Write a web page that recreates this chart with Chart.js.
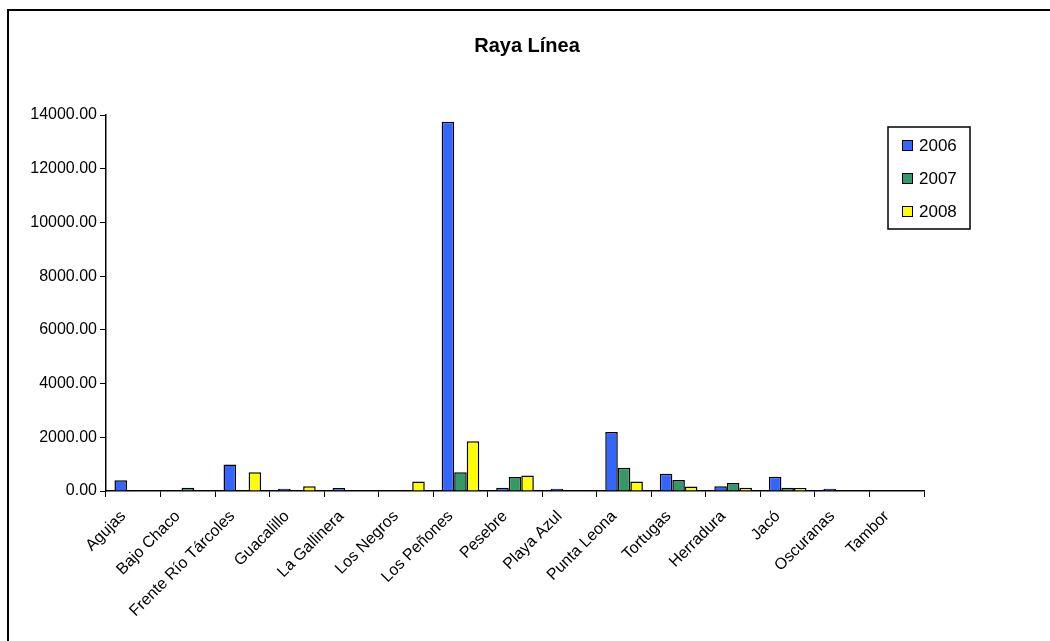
<!DOCTYPE html>
<html>
<head>
<meta charset="utf-8">
<script src="https://cdn.jsdelivr.net/npm/chart.js@4/dist/chart.umd.min.js"></script>
<style>
  html, body { margin: 0; padding: 0; background: #fff; }
  #wrap { width: 1050px; height: 641px; position: relative; }
</style>
</head>
<body>
<div id="wrap"><canvas id="chart" width="1050" height="641"></canvas></div>
<script>
const categories = ['Agujas', 'Bajo Chaco', 'Frente Río Tárcoles', 'Guacalillo', 'La Gallinera', 'Los Negros',
    'Los Peñones', 'Pesebre', 'Playa Azul', 'Punta Leona', 'Tortugas', 'Herradura', 'Jacó', 'Oscuranas', 'Tambor'];
const years = ['2006', '2007', '2008'];
const values2006 = [400, 0, 990, 80, 110, 0, 13750, 120, 80, 2200, 640, 180, 530, 80, 0];
const values2007 = [0, 120, 0, 0, 0, 0, 700, 520, 0, 870, 410, 300, 120, 0, 0];
const values2008 = [0, 0, 700, 180, 0, 350, 1850, 580, 0, 350, 170, 120, 110, 0, 0];
const yTicks = [0, 2000, 4000, 6000, 8000, 10000, 12000, 14000];
const colors = ['#3366FF', '#339966', '#FFFF00'];
const title = 'Raya Línea';

const font = 'Arial, "Liberation Sans", sans-serif';

// marco exterior, título y leyenda con recuadro
const framePlugin = {
    id: 'frame',
    afterDraw(chart) {
        const ctx = chart.ctx;
        ctx.save();
        ctx.strokeStyle = '#000';
        ctx.lineWidth = 2;
        ctx.beginPath();
        ctx.moveTo(8, 660);
        ctx.lineTo(8, 10);
        ctx.lineTo(1060, 10);
        ctx.stroke();

        ctx.fillStyle = '#000';
        ctx.font = 'bold 20px ' + font;
        ctx.textAlign = 'center';
        ctx.textBaseline = 'middle';
        ctx.fillText(title, 527, 46);

        // leyenda
        const bx = 888, by = 127, bw = 82, bh = 102;
        ctx.lineWidth = 1.5;
        ctx.strokeRect(bx, by, bw, bh);
        ctx.font = '17px ' + font;
        ctx.textAlign = 'left';
        chart.data.datasets.forEach((ds, i) => {
            const y = by + 18 + i * 33;
            ctx.fillStyle = ds.backgroundColor;
            ctx.fillRect(bx + 14, y - 5, 10, 10);
            ctx.lineWidth = 1;
            ctx.strokeStyle = '#000';
            ctx.strokeRect(bx + 14.5, y - 4.5, 10, 10);
            ctx.fillStyle = '#000';
            ctx.fillText(ds.label, bx + 31, y + 1);
        });
        ctx.restore();
    }
};

new Chart(document.getElementById('chart'), {
    type: 'bar',
    data: {
        labels: categories,
        datasets: [values2006, values2007, values2008].map((v, i) => ({
            label: years[i],
            data: v,
            backgroundColor: colors[i],
            borderColor: '#000',
            borderWidth: 1.5,
            categoryPercentage: 0.69,
            barPercentage: 1.0
        }))
    },
    options: {
        responsive: false,
        animation: false,
        layout: { padding: { left: 0, right: 126, top: 115, bottom: 0 } },
        plugins: {
            legend: { display: false },
            tooltip: { enabled: false },
            title: { display: false }
        },
        scales: {
            x: {
                grid: { display: true, drawOnChartArea: false, color: '#000', tickLength: 6, offset: true },
                border: { color: '#000', width: 1.5 },
                ticks: {
                    color: '#000',
                    font: { family: font, size: 16 },
                    maxRotation: 45,
                    minRotation: 45,
                    autoSkip: false,
                    padding: 10,
                    labelOffset: -10
                },
                afterFit(s) { s.height = 150; }
            },
            y: {
                min: 0,
                max: 14000,
                afterBuildTicks(s) { s.ticks = yTicks.map(v => ({ value: v })); },
                grid: { display: true, drawOnChartArea: false, color: '#000', tickLength: 6 },
                border: { color: '#000', width: 1.5 },
                ticks: {
                    color: '#000',
                    font: { family: font, size: 16 },
                    padding: 3,
                    callback: v => v.toFixed(2)
                },
                afterFit(s) { s.width = 106; }
            }
        }
    },
    plugins: [framePlugin]
});
</script>
</body>
</html>
